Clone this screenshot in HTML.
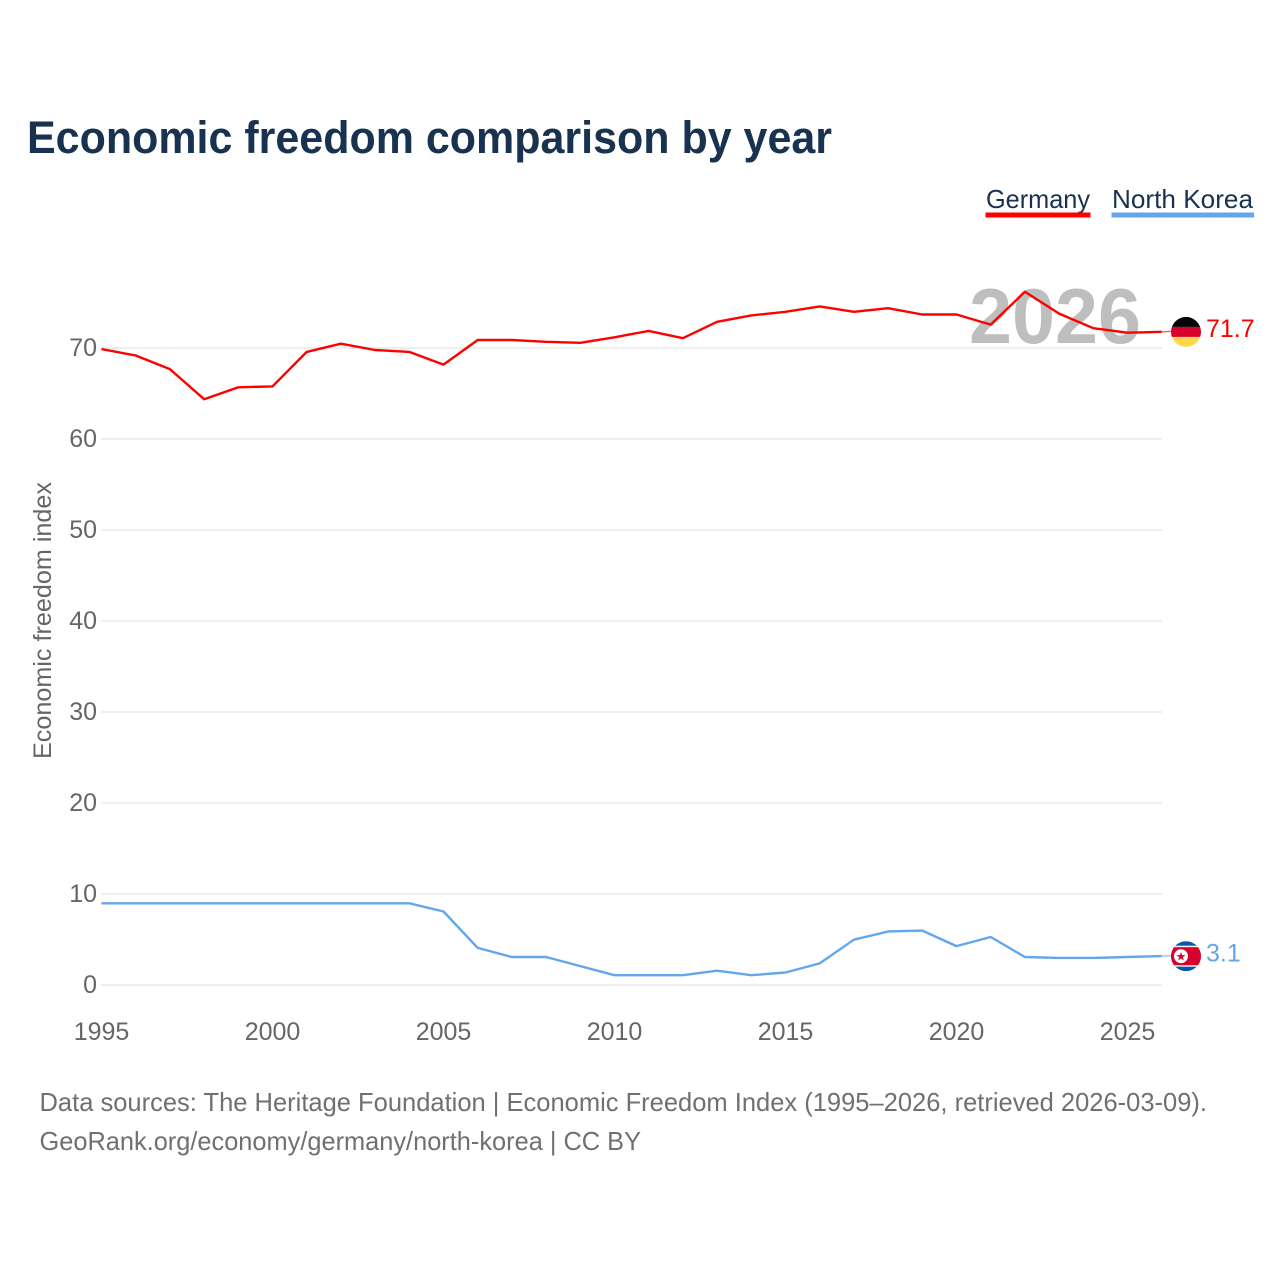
<!DOCTYPE html>
<html lang="en">
<head>
<meta charset="utf-8">
<title>Economic freedom comparison by year</title>
<style>
html,body{margin:0;padding:0;background:#fff;width:1280px;height:1280px;overflow:hidden}
svg{display:block}
text{font-family:"Liberation Sans",sans-serif}
</style>
</head>
<body>
<svg id="chart" width="1280" height="1280" viewBox="0 0 1280 1280" xmlns="http://www.w3.org/2000/svg">
  <defs>
    <clipPath id="flag-clip-de"><circle cx="1186" cy="332" r="15"/></clipPath>
    <clipPath id="flag-clip-kp"><circle cx="1186" cy="956" r="15"/></clipPath>
  </defs>
  <text x="27" y="153" font-size="45" font-weight="700" fill="#18324f" textLength="805" lengthAdjust="spacingAndGlyphs">Economic freedom comparison by year</text>

  <g>
    <text x="986" y="208" font-size="26" fill="#18324f" textLength="104" lengthAdjust="spacingAndGlyphs">Germany</text>
    <rect x="985.5" y="212.5" width="105" height="5" fill="#ff0000"/>
  </g>
  <g>
    <text x="1112" y="208" font-size="26" fill="#18324f" textLength="141" lengthAdjust="spacingAndGlyphs">North Korea</text>
    <rect x="1111.5" y="212.5" width="142.5" height="5" fill="#63a6ee"/>
  </g>

  <g id="grid"></g>
  <text id="time-label" x="969" y="343" font-size="78" font-weight="700" fill="#bebebe" textLength="172" lengthAdjust="spacingAndGlyphs"></text>
  <g id="y-ticks"></g>
  <g id="x-ticks"></g>
  <text transform="translate(51 620.5) rotate(-90)" text-anchor="middle" font-size="25" fill="#666666" textLength="277" lengthAdjust="spacingAndGlyphs">Economic freedom index</text>
  <g id="series" transform="translate(0 -0.7)"></g>

  <g id="flag-de" clip-path="url(#flag-clip-de)">
    <rect x="1171" y="317" width="30" height="10" fill="#050505"/>
    <rect x="1171" y="327" width="30" height="10" fill="#d8002c"/>
    <rect x="1171" y="337" width="30" height="10" fill="#ffd84a"/>
  </g>
  <g id="flag-kp" clip-path="url(#flag-clip-kp)">
    <rect x="1171" y="941" width="30" height="30" fill="#0a56ad"/>
    <rect x="1171" y="945.5" width="30" height="21" fill="#f4f4f4"/>
    <rect x="1171" y="947" width="30" height="18" fill="#d8002c"/>
    <circle cx="1181" cy="956" r="7" fill="#ffffff"/>
    <text x="1181" y="960.5" font-size="12" text-anchor="middle" fill="#d8002c">★</text>
  </g>
  <text id="label-de" x="1206" font-size="25" fill="#ff0000"></text>
  <text id="label-kp" x="1206" font-size="25" fill="#63a6ee"></text>

  <text x="39.5" y="1111" font-size="26" fill="#707070" textLength="1167.5" lengthAdjust="spacingAndGlyphs">Data sources: The Heritage Foundation | Economic Freedom Index (1995–2026, retrieved 2026-03-09).</text>
  <text x="39.5" y="1150" font-size="26" fill="#707070" textLength="601.5" lengthAdjust="spacingAndGlyphs">GeoRank.org/economy/germany/north-korea | CC BY</text>
</svg>
<script>
const years = [1995,1996,1997,1998,1999,2000,2001,2002,2003,2004,2005,2006,2007,2008,2009,2010,2011,2012,2013,2014,2015,2016,2017,2018,2019,2020,2021,2022,2023,2024,2025,2026];
const germany = [69.8,69.1,67.6,64.3,65.6,65.7,69.5,70.4,69.7,69.5,68.1,70.8,70.8,70.6,70.5,71.1,71.8,71.0,72.8,73.5,73.9,74.5,73.9,74.3,73.6,73.6,72.5,76.1,73.7,72.1,71.6,71.7];
const northKorea = [8.9,8.9,8.9,8.9,8.9,8.9,8.9,8.9,8.9,8.9,8.0,4.0,3.0,3.0,2.0,1.0,1.0,1.0,1.5,1.0,1.3,2.3,4.9,5.8,5.9,4.2,5.2,3.0,2.9,2.9,3.0,3.1];
const yTicks = [0,10,20,30,40,50,60,70];
const xTicks = [1995,2000,2005,2010,2015,2020,2025];

const NS = 'http://www.w3.org/2000/svg';
const xScale = function (year) { return 101.5 + (year - 1995) * 34.2; };
const yScale = function (value) { return 985 - value * 9.1; };

function make(tag, attrs, parent) {
  const el = document.createElementNS(NS, tag);
  Object.keys(attrs).forEach(function (k) { el.setAttribute(k, attrs[k]); });
  parent.appendChild(el);
  return el;
}

const gridGroup = document.getElementById('grid');
const yGroup = document.getElementById('y-ticks');
yTicks.forEach(function (t) {
  const line = make('line', {x1: 101, x2: 1162, y1: yScale(t), y2: yScale(t), stroke: '#eeeeee', 'stroke-width': 2}, gridGroup);
  
  
  const label = make('text', {x: 97, y: yScale(t) + 8, 'text-anchor': 'end', 'font-size': 25, fill: '#666666'}, yGroup);
  
  
  label.textContent = t;
});

const xGroup = document.getElementById('x-ticks');
xTicks.forEach(function (t) {
  const label = make('text', {x: xScale(t), y: 1040, 'text-anchor': 'middle', 'font-size': 25, fill: '#666666'}, xGroup);
  
  
  label.textContent = t;
});

document.getElementById('time-label').textContent = years[years.length - 1];

const seriesGroup = document.getElementById('series');
function drawSeries(values, color, name) {
  const lastY = yScale(values[values.length - 1]);
  const lastX = xScale(years[years.length - 1]);
  const connector = make('line', {x1: lastX, x2: 1172, y1: lastY, y2: lastY - 0.5, stroke: color, 'stroke-width': 1.5, opacity: 0.6}, seriesGroup);
  
  
  const pts = values.map(function (v, i) { return xScale(years[i]).toFixed(1) + ',' + yScale(v).toFixed(1); }).join(' ');
  const line = make('polyline', {points: pts, fill: 'none', stroke: color, 'stroke-width': 2.4, 'stroke-linejoin': 'round'}, seriesGroup);
  
  
}
drawSeries(germany, '#ff0000', 'germany');
drawSeries(northKorea, '#63a6ee', 'north-korea');

function placeEnd(values, labelId, flagId, flagDrawnCy) {
  const last = values[values.length - 1];
  const y = yScale(last);
  const label = document.getElementById(labelId);
  label.textContent = last.toFixed(1);
  label.setAttribute('y', y + 4.5);
  document.getElementById(flagId).setAttribute('transform', 'translate(0 ' + (y - 0.6 - flagDrawnCy).toFixed(2) + ')');
}
placeEnd(germany, 'label-de', 'flag-de', 332);
placeEnd(northKorea, 'label-kp', 'flag-kp', 956);
</script>
</body>
</html>
